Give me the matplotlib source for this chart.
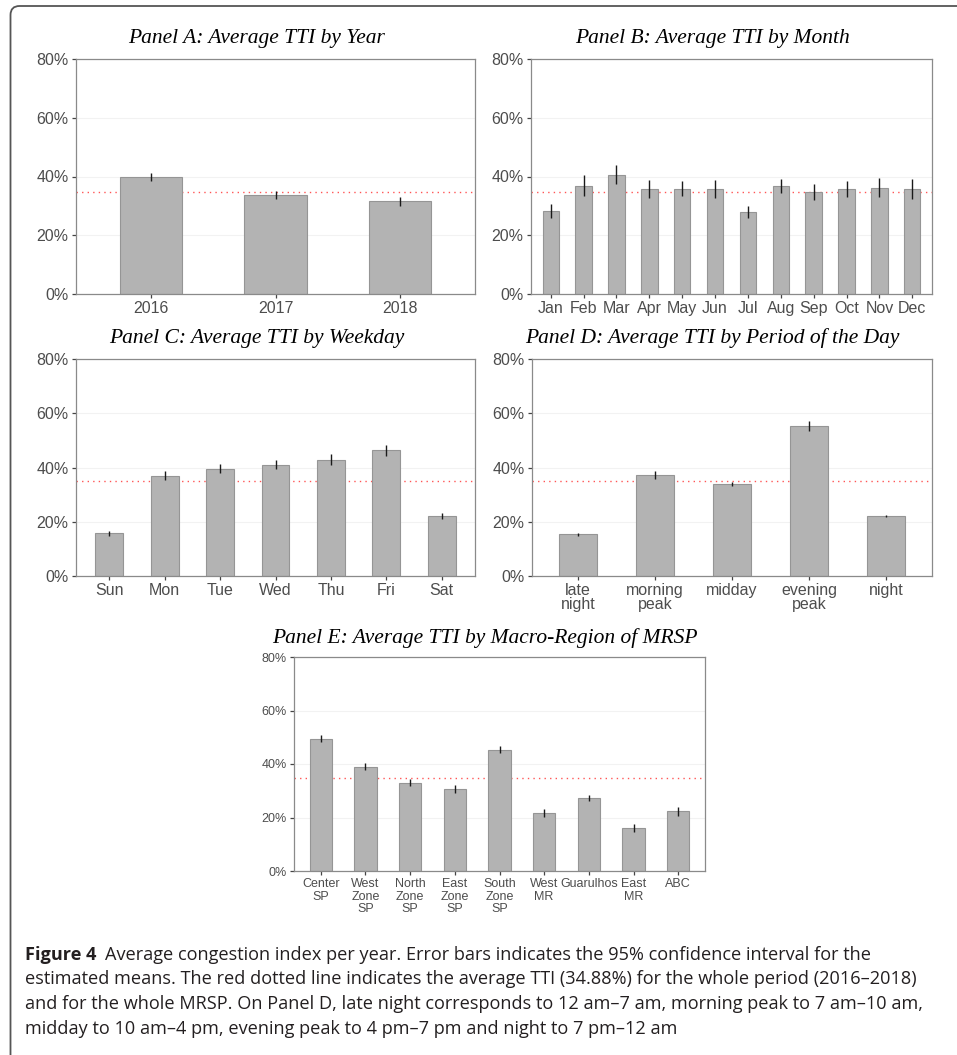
import matplotlib
matplotlib.use("Agg")
import matplotlib.pyplot as plt
from matplotlib.patches import FancyBboxPatch
from matplotlib.ticker import FuncFormatter
from matplotlib import font_manager

W, H = 957, 1055
TTI_MEAN = 34.88  # overall average TTI, 2016-2018

# Panel A: by year
years = ['2016', '2017', '2018']
year_tti = [39.7, 33.8, 31.6]
year_ci = [1.4, 1.4, 1.5]

# Panel B: by month
months = ['Jan', 'Feb', 'Mar', 'Apr', 'May', 'Jun',
          'Jul', 'Aug', 'Sep', 'Oct', 'Nov', 'Dec']
month_tti = [28.4, 36.9, 40.6, 35.8, 35.9, 35.8, 27.9, 36.7, 34.8, 35.7, 36.2, 35.7]
month_ci = [2.4, 3.5, 3.2, 3.1, 2.7, 3.0, 2.1, 2.4, 2.8, 2.8, 3.3, 3.4]

# Panel C: by weekday
weekdays = ['Sun', 'Mon', 'Tue', 'Wed', 'Thu', 'Fri', 'Sat']
weekday_tti = [15.7, 37.0, 39.6, 41.0, 42.8, 46.3, 22.1]
weekday_ci = [0.9, 1.7, 1.7, 1.7, 2.0, 2.1, 1.0]

# Panel D: by period of the day
periods = ['late\nnight', 'morning\npeak', 'midday', 'evening\npeak', 'night']
period_tti = [15.4, 37.2, 33.9, 55.4, 22.1]
period_ci = [0.6, 1.4, 0.9, 1.8, 0.4]

# Panel E: by macro-region
regions = ['Center\nSP', 'West\nZone\nSP', 'North\nZone\nSP', 'East\nZone\nSP',
           'South\nZone\nSP', 'West\nMR', 'Guarulhos', 'East\nMR', 'ABC']
region_tti = [49.5, 39.0, 33.0, 30.8, 45.4, 21.6, 27.2, 16.2, 22.3]
region_ci = [1.4, 1.2, 1.3, 1.5, 1.4, 1.4, 1.2, 1.5, 1.6]

caption_lines = [
    "Average congestion index per year. Error bars indicates the 95% confidence interval for the",
    "estimated means. The red dotted line indicates the average TTI (34.88%) for the whole period (2016\u20132018)",
    "and for the whole MRSP. On Panel D, late night corresponds to 12 am\u20137 am, morning peak to 7 am\u201310 am,",
    "midday to 10 am\u20134 pm, evening peak to 4 pm\u20137 pm and night to 7 pm\u201312 am",
]

SANS = 'Liberation Sans'
SERIF = 'Liberation Serif'
installed = {f.name for f in font_manager.fontManager.ttflist}
CAPTION_FONT = 'Liberation Sans Narrow' if 'Liberation Sans Narrow' in installed else 'Open Sans'


def fig_rect(left, top, right, bottom):
    return [left / W, 1 - bottom / H, (right - left) / W, (bottom - top) / H]


def bar_panel(fig, rect, labels, values, errs, fsize=11.5, linespacing=0.9):
    ax = fig.add_axes(rect)
    x = list(range(len(labels)))
    ax.axhline(TTI_MEAN, color='#FF5555', lw=1.0, ls=(0, (1, 3)), zorder=1)
    ax.bar(x, values, width=0.5, color='#B3B3B3', edgecolor='#959595',
           linewidth=0.8, zorder=2)
    lo = [v - e for v, e in zip(values, errs)]
    hi = [v + e for v, e in zip(values, errs)]
    ax.vlines(x, lo, hi, color='#1A1A1A', lw=1.0, zorder=3)
    ax.set_xlim(-0.6, len(labels) - 0.4)
    ax.set_ylim(0, 80)
    ax.set_yticks([0, 20, 40, 60, 80])
    ax.yaxis.set_major_formatter(FuncFormatter(lambda v, _: f'{v:.0f}%'))
    ax.set_xticks(x)
    ax.set_xticklabels(labels, linespacing=linespacing)
    ax.yaxis.grid(True, color='#F2F2F2', lw=0.8)
    ax.set_axisbelow(True)
    for s in ax.spines.values():
        s.set_color('#8A8A8A')
        s.set_linewidth(0.9)
    ax.tick_params(length=2.8, width=0.9, color='#444444', pad=2.5,
                   labelsize=fsize, labelcolor='#4D4D4D')
    for t in ax.get_xticklabels() + ax.get_yticklabels():
        t.set_fontfamily(SANS)
    return ax


def panel_title(fig, text, xc, yc):
    fig.text(xc / W, 1 - yc / H, text, ha='center', va='center',
             family=SERIF, style='italic', fontsize=15.5, color='black')


fig = plt.figure(figsize=(W / 100, H / 100), dpi=100)

# frame: top and left edges with a rounded corner
frame = FancyBboxPatch((0.105, -1.0), 12.0, (H - 6) / 100 + 1.0,
                       boxstyle='round,pad=0,rounding_size=0.09',
                       transform=fig.dpi_scale_trans, fill=False,
                       edgecolor='#555555', linewidth=1.3)
fig.add_artist(frame)

bar_panel(fig, fig_rect(76, 59, 475, 294), years, year_tti, year_ci)
panel_title(fig, 'Panel A: Average TTI by Year', 257, 39)

bar_panel(fig, fig_rect(531, 59, 932, 294), months, month_tti, month_ci)
panel_title(fig, 'Panel B: Average TTI by Month', 712, 39)

bar_panel(fig, fig_rect(76, 359, 475, 576), weekdays, weekday_tti, weekday_ci)
panel_title(fig, 'Panel C: Average TTI by Weekday', 257, 338)

bar_panel(fig, fig_rect(532, 359, 932, 576), periods, period_tti, period_ci,
          linespacing=0.92)
panel_title(fig, 'Panel D: Average TTI by Period of the Day', 712, 338)

bar_panel(fig, fig_rect(294, 657, 705, 871), regions, region_tti, region_ci,
          fsize=9, linespacing=1.05)
panel_title(fig, 'Panel E: Average TTI by Macro-Region of MRSP', 485, 638)

# caption, sized so the longest line spans the text block
renderer = fig.canvas.get_renderer()
probe_w = 0
for line in caption_lines[1:3]:
    probe = fig.text(0, 0, line, family=CAPTION_FONT, fontsize=12)
    probe_w = max(probe_w, probe.get_window_extent(renderer).width)
    probe.remove()
cap_size = 12 * 897 / probe_w

baselines = [960, 984.5, 1009, 1033.5]
head = fig.text(25 / W, 1 - baselines[0] / H, 'Figure 4', family=CAPTION_FONT,
                weight='bold', fontsize=cap_size, color='#231F20', va='baseline')
fig.canvas.draw()
head_w = head.get_window_extent(renderer).width
fig.text((25 + head_w + 9) / W, 1 - baselines[0] / H, caption_lines[0],
         family=CAPTION_FONT, fontsize=cap_size, color='#231F20', va='baseline')
for line, b in zip(caption_lines[1:], baselines[1:]):
    fig.text(25 / W, 1 - b / H, line, family=CAPTION_FONT, fontsize=cap_size,
             color='#231F20', va='baseline')

fig.savefig('out.png', dpi=100)
